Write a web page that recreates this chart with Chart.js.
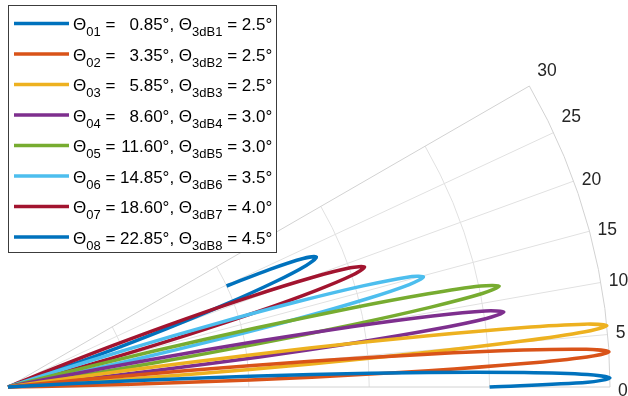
<!DOCTYPE html>
<html>
<head>
<meta charset="utf-8">
<script src="https://cdn.jsdelivr.net/npm/chart.js@4/dist/chart.umd.min.js"></script>
<style>
  html, body { margin: 0; padding: 0; background: #ffffff; overflow: hidden; }
  canvas { display: block; }
</style>
</head>
<body>
<canvas id="beams" width="628" height="396"></canvas>
<script>
// Beam pointing angles and 3 dB beamwidths, degrees
const beamCenters = [0.85, 3.35, 5.85, 8.60, 11.60, 14.85, 18.60, 22.85];
const beamWidths  = [2.5, 2.5, 2.5, 3.0, 3.0, 3.5, 4.0, 4.5];

// Sampled main lobes: angle (deg) and normalised radius
const beam1Theta = [0, 0.475, 0.85, 1.225, 1.6, 1.975, 2.35, 2.725, 3.1, 3.35];
const beam1R     = [0.80, 0.963, 1.0, 0.963, 0.858, 0.699, 0.505, 0.300, 0.109, 0];

const beam2Theta = [0.85, 1.1, 1.475, 1.85, 2.225, 2.6, 2.975, 3.35, 3.725, 4.1, 4.475, 4.85, 5.225, 5.6, 5.85];
const beam2R     = [0, 0.109, 0.300, 0.505, 0.699, 0.858, 0.963, 1.0, 0.963, 0.858, 0.699, 0.505, 0.300, 0.109, 0];

const beam3Theta = [3.35, 3.6, 3.975, 4.35, 4.725, 5.1, 5.475, 5.85, 6.225, 6.6, 6.975, 7.35, 7.725, 8.1, 8.35];
const beam3R     = [0, 0.109, 0.300, 0.505, 0.699, 0.858, 0.963, 1.0, 0.963, 0.858, 0.699, 0.505, 0.300, 0.109, 0];

const beam4Theta = [5.6, 5.9, 6.35, 6.8, 7.25, 7.7, 8.15, 8.6, 9.05, 9.5, 9.95, 10.4, 10.85, 11.3, 11.6];
const beam4R     = [0, 0.091, 0.250, 0.421, 0.582, 0.715, 0.803, 0.833, 0.803, 0.715, 0.582, 0.421, 0.250, 0.091, 0];

const beam5Theta = [8.6, 8.9, 9.35, 9.8, 10.25, 10.7, 11.15, 11.6, 12.05, 12.5, 12.95, 13.4, 13.85, 14.3, 14.6];
const beam5R     = [0, 0.091, 0.250, 0.421, 0.582, 0.715, 0.803, 0.833, 0.803, 0.715, 0.582, 0.421, 0.250, 0.091, 0];

const beam6Theta = [11.35, 11.7, 12.225, 12.75, 13.275, 13.8, 14.325, 14.85, 15.375, 15.9, 16.425, 16.95, 17.475, 18.0, 18.35];
const beam6R     = [0, 0.078, 0.214, 0.360, 0.499, 0.613, 0.688, 0.714, 0.688, 0.613, 0.499, 0.360, 0.214, 0.078, 0];

const beam7Theta = [14.6, 15.0, 15.6, 16.2, 16.8, 17.4, 18.0, 18.6, 19.2, 19.8, 20.4, 21.0, 21.6, 22.2, 22.6];
const beam7R     = [0, 0.068, 0.188, 0.315, 0.437, 0.537, 0.602, 0.625, 0.602, 0.537, 0.437, 0.315, 0.188, 0.068, 0];

const beam8Theta = [18.35, 18.8, 19.475, 20.15, 20.825, 21.5, 22.175, 22.85, 23.525, 24.2, 24.8];
const beam8R     = [0, 0.061, 0.167, 0.280, 0.388, 0.477, 0.535, 0.556, 0.535, 0.477, 0.40];

// Polar axes ticks
const thetaTicks = [0, 5, 10, 15, 20, 25, 30];
const rTicks = [0.2, 0.4, 0.6, 0.8, 1.0];

const beamColors = ['#0072BD', '#D95319', '#EDB120', '#7E2F8E', '#77AC30', '#4DBEEE', '#A2142F', '#0072BD'];

const DEG = Math.PI / 180;
const FONT = '"Liberation Sans", Arial, Helvetica, sans-serif';

// polar (deg, r) -> cartesian data values
function toXY(thetas, radii) {
  return thetas.map((t, i) => ({ x: radii[i] * Math.cos(t * DEG), y: radii[i] * Math.sin(t * DEG) }));
}

const beams = [
  [beam1Theta, beam1R], [beam2Theta, beam2R], [beam3Theta, beam3R], [beam4Theta, beam4R],
  [beam5Theta, beam5R], [beam6Theta, beam6R], [beam7Theta, beam7R], [beam8Theta, beam8R]
];

const datasets = beams.map(([t, r], i) => ({
  label: 'beam ' + (i + 1),
  data: toXY(t, r),
  showLine: true,
  fill: false,
  borderColor: beamColors[i],
  backgroundColor: beamColors[i],
  borderWidth: 3.5,
  pointRadius: 0,
  pointHoverRadius: 0,
  tension: 0.3,
  borderJoinStyle: 'round',
  borderCapStyle: 'butt'
}));

// Grid arcs and spokes of the 0..30 degree sector
const polarGrid = {
  id: 'polarGrid',
  beforeDatasetsDraw(chart) {
    const { ctx, scales: { x, y } } = chart;
    const cx = x.getPixelForValue(0), cy = y.getPixelForValue(0);
    const R = x.getPixelForValue(1) - cx;
    const tMax = thetaTicks[thetaTicks.length - 1] * DEG;
    ctx.save();
    ctx.lineWidth = 1;
    ctx.strokeStyle = '#e1e1e1';
    rTicks.slice(0, -1).forEach(r => {
      ctx.beginPath(); ctx.arc(cx, cy, r * R, -tMax, 0); ctx.stroke();
    });
    thetaTicks.slice(1, -1).forEach(t => {
      ctx.beginPath(); ctx.moveTo(cx, cy);
      ctx.lineTo(cx + R * Math.cos(t * DEG), cy - R * Math.sin(t * DEG)); ctx.stroke();
    });
    // sector outline
    ctx.strokeStyle = '#d2d2d2';
    ctx.beginPath();
    ctx.moveTo(cx, cy);
    ctx.lineTo(cx + R, cy);
    ctx.arc(cx, cy, R, 0, -tMax, true);
    ctx.closePath();
    ctx.stroke();
    ctx.restore();
  }
};

// Angle labels outside the outer arc
const thetaLabels = {
  id: 'thetaLabels',
  afterDatasetsDraw(chart) {
    const { ctx, scales: { x, y } } = chart;
    const cx = x.getPixelForValue(0), cy = y.getPixelForValue(0);
    const R = x.getPixelForValue(1) - cx;
    ctx.save();
    ctx.fillStyle = '#262626';
    ctx.font = '17.5px ' + FONT;
    ctx.textAlign = 'left';
    ctx.textBaseline = 'middle';
    thetaTicks.forEach(t => {
      const px = cx + R * Math.cos(t * DEG);
      const py = cy - R * Math.sin(t * DEG);
      const dy = t === 0 ? 4 : (t >= 25 ? -15 : -1);
      ctx.fillText(String(t), px + 8, py + dy);
    });
    ctx.restore();
  }
};

// Legend box with subscripted labels
const beamLegend = {
  id: 'beamLegend',
  afterDraw(chart) {
    const ctx = chart.ctx;
    const box = { x: 8.5, y: 5.5, w: 268, h: 247 };
    const mainFont = '17px ' + FONT, subFont = '13px ' + FONT;
    ctx.save();
    ctx.fillStyle = '#ffffff';
    ctx.fillRect(box.x, box.y, box.w, box.h);
    ctx.strokeStyle = '#3c3c3c';
    ctx.lineWidth = 1;
    ctx.strokeRect(box.x, box.y, box.w, box.h);

    const values = beamCenters.map(v => v.toFixed(2) + '°,');
    ctx.font = mainFont;
    const slot = Math.max(...values.map(v => ctx.measureText(v).width));

    beamCenters.forEach((c, i) => {
      const yc = 23.5 + i * 30.5;
      ctx.strokeStyle = beamColors[i];
      ctx.lineWidth = 3.5;
      ctx.beginPath(); ctx.moveTo(14, yc); ctx.lineTo(69, yc); ctx.stroke();

      const base = yc + 6.5, subBase = base + 6;
      let cur = 73;
      ctx.fillStyle = '#000000';
      ctx.textAlign = 'left';
      ctx.textBaseline = 'alphabetic';
      const put = (txt, font, yb) => { ctx.font = font; ctx.fillText(txt, cur, yb); cur += ctx.measureText(txt).width; };
      const idx = String(i + 1).padStart(2, '0');
      put('Θ', mainFont, base);
      put(idx, subFont, subBase);
      put(' = ', mainFont, base);
      ctx.font = mainFont;
      const vw = ctx.measureText(values[i]).width;
      ctx.fillText(values[i], cur + slot - vw, base);
      cur += slot;
      put(' Θ', mainFont, base);
      put('3dB' + (i + 1), subFont, subBase);
      put(' = ' + beamWidths[i].toFixed(1) + '°', mainFont, base);
    });
    ctx.restore();
  }
};

// Pixel scale: 602 px per unit radius, origin 8 px from the left, 9 px above the bottom
const xMin = -8 / 602, xMax = 620 / 602;
const yMin = -9 / 602, yMax = 387 / 602;

new Chart(document.getElementById('beams'), {
  type: 'scatter',
  data: { datasets },
  options: {
    responsive: false,
    animation: false,
    events: [],
    layout: { padding: 0 },
    plugins: { legend: { display: false }, tooltip: { enabled: false }, title: { display: false } },
    scales: {
      x: { type: 'linear', display: false, min: xMin, max: xMax },
      y: { type: 'linear', display: false, min: yMin, max: yMax }
    }
  },
  plugins: [polarGrid, thetaLabels, beamLegend]
});
</script>
</body>
</html>
